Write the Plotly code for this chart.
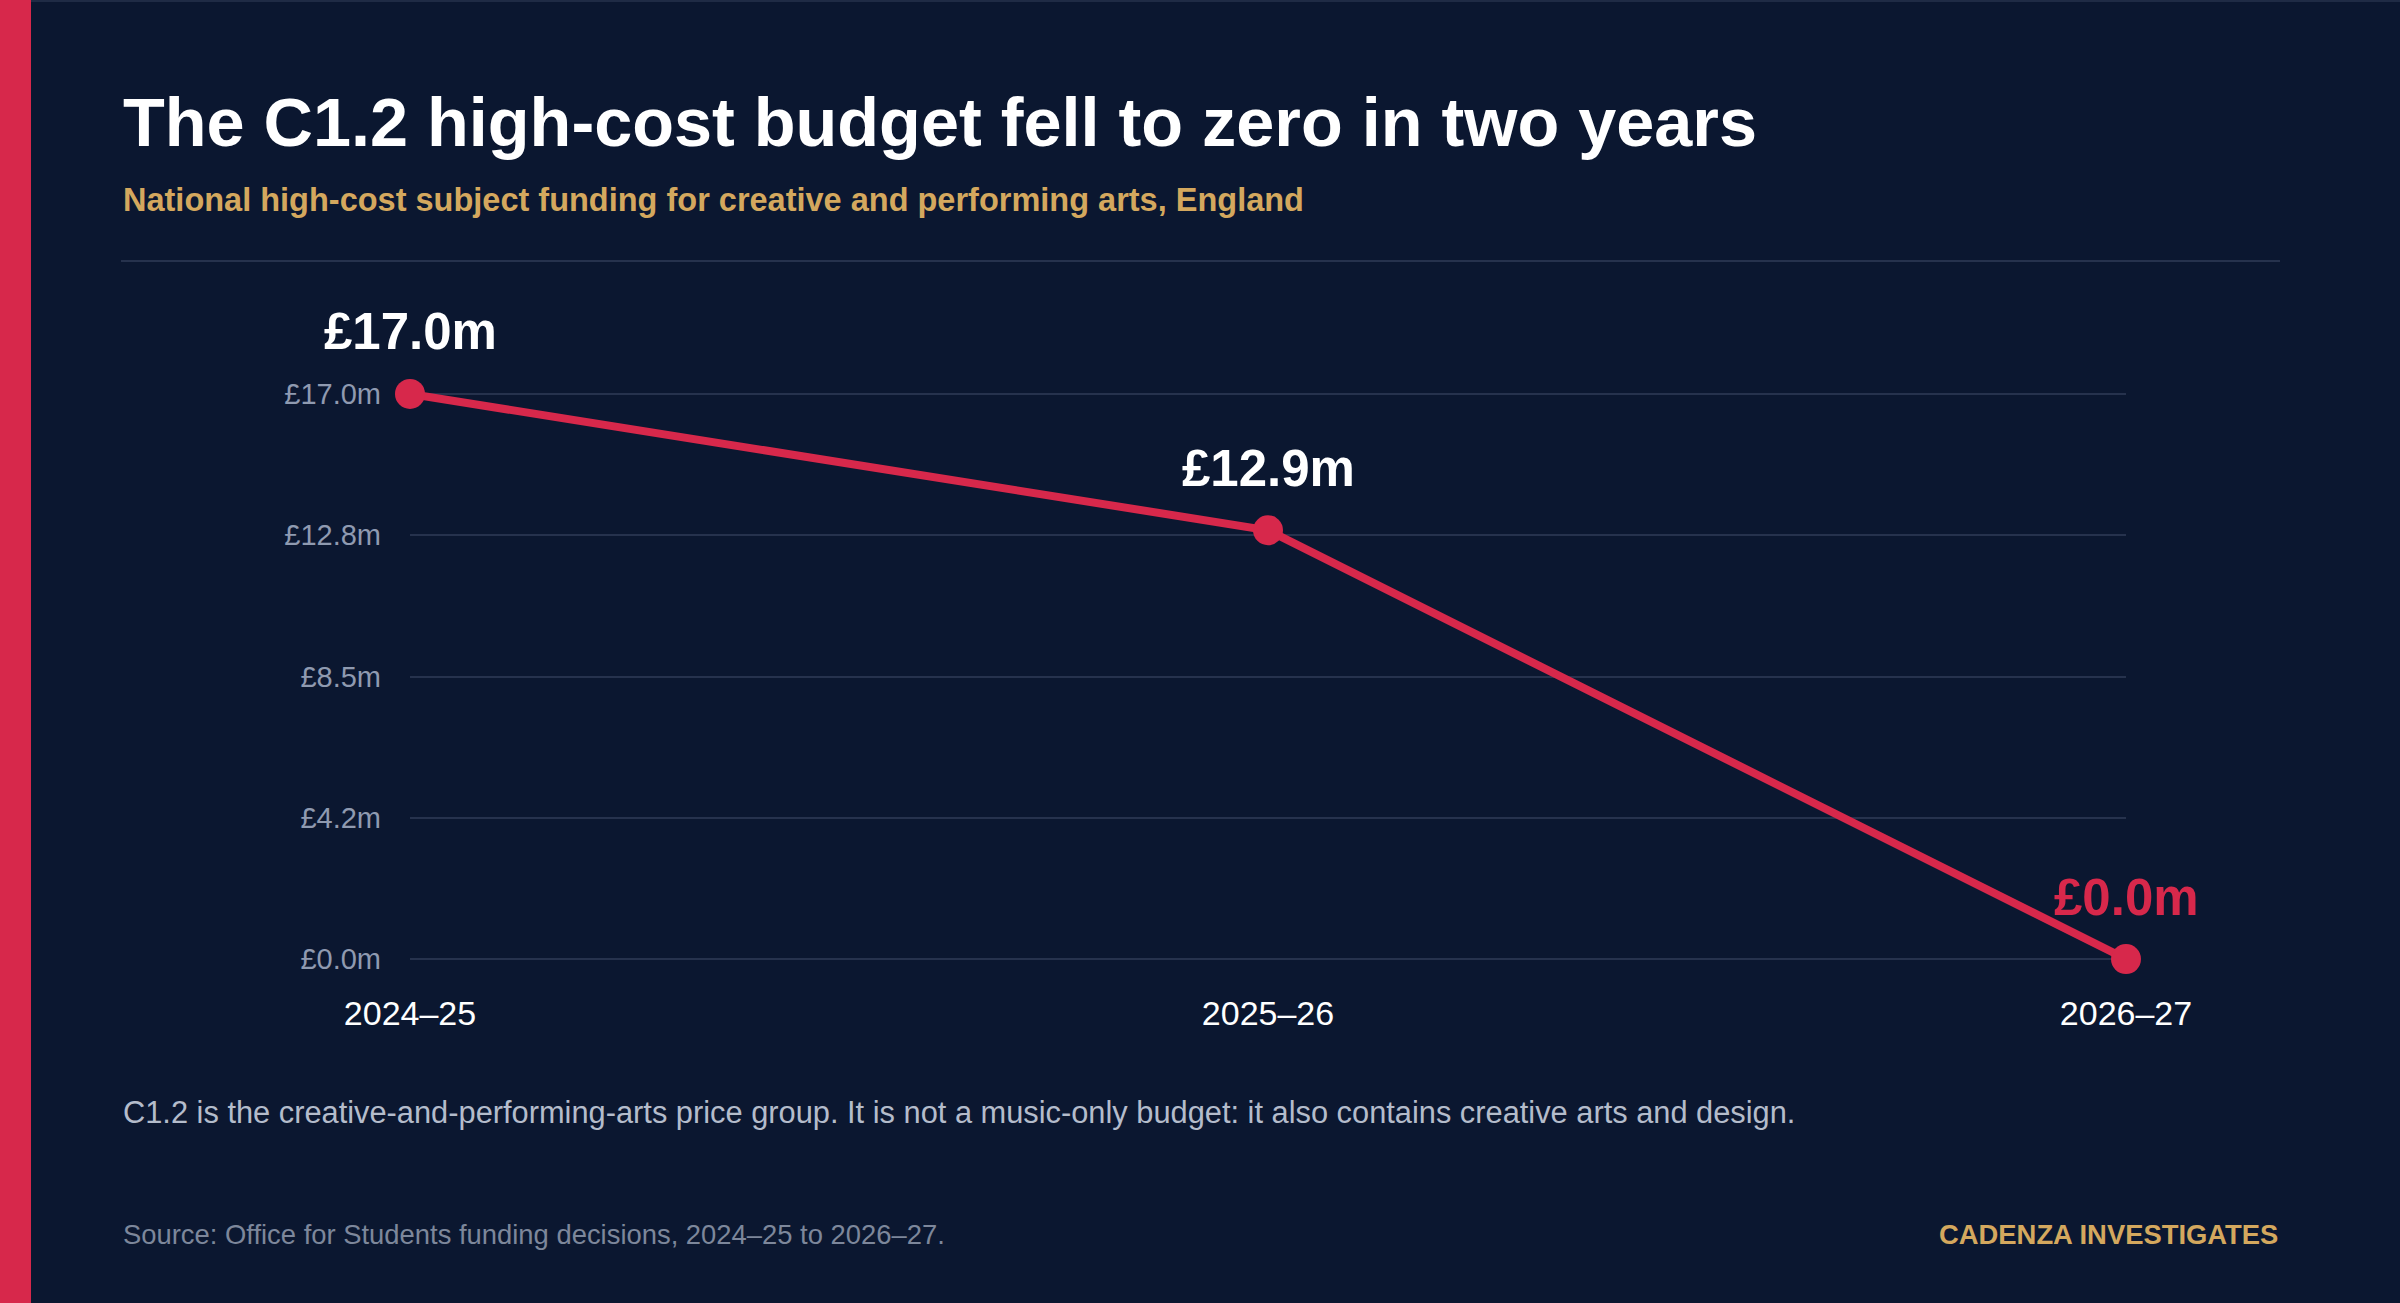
import plotly.graph_objects as go

# data
years = ["2024–25", "2025–26", "2026–27"]
funding_m = [17.0, 12.9, 0.0]
point_labels = ["£17.0m", "£12.9m", "£0.0m"]
tick_values = [0, 4.25, 8.5, 12.75, 17.0]
tick_labels = ["£0.0m", "£4.2m", "£8.5m", "£12.8m", "£17.0m"]

BG = "#0b1730"
RED = "#d7284b"
GOLD = "#d4a85e"
GRID = "#26324d"
FONT = "Liberation Sans, Arial, sans-serif"

W, H = 2400, 1303
# plot area in pixels; y range padded so the edge gridlines still get drawn
PAD = 0.3
L, R = 410, 2126
T, B = 394 - PAD * 565 / 17, 959 + PAD * 565 / 17
Y_RANGE = [-PAD, 17 + PAD]


def px(x):
    return (x - L) / (R - L)


def py(y):
    return (B - y) / (B - T)


fig = go.Figure()

fig.add_trace(go.Scatter(
    x=years, y=funding_m,
    mode="lines+markers",
    line=dict(color=RED, width=8),
    marker=dict(color=RED, size=30),
    cliponaxis=False,
    hoverinfo="skip",
    showlegend=False,
))

# value labels above each point
for yr, v, lab in zip(years, funding_m, point_labels):
    fig.add_annotation(
        x=yr, y=v, text=f"<b>{lab}</b>", showarrow=False,
        yshift=62, xanchor="center", yanchor="middle",
        font=dict(family=FONT, size=51, color=RED if v == 0 else "white"),
    )

texts = [
    # (text, x px, y px, size, color, bold, xanchor)
    ("The C1.2 high-cost budget fell to zero in two years", 121, 122, 68.4, "white", True, "left"),
    ("National high-cost subject funding for creative and performing arts, England", 121, 200, 32.5, GOLD, True, "left"),
    ("C1.2 is the creative-and-performing-arts price group. It is not a music-only budget: it also contains creative arts and design.",
     121, 1112, 30.8, "#b4bccb", False, "left"),
    ("Source: Office for Students funding decisions, 2024–25 to 2026–27.", 121, 1234, 27.4, "#7d879b", False, "left"),
    ("CADENZA INVESTIGATES", 2280, 1234, 27.4, GOLD, True, "right"),
]
for t, x, y, s, c, b, xa in texts:
    fig.add_annotation(
        xref="paper", yref="paper", x=px(x), y=py(y),
        text=f"<b>{t}</b>" if b else t, showarrow=False,
        xanchor=xa, yanchor="middle",
        font=dict(family=FONT, size=s, color=c),
    )

# left accent bar, divider, thin frame
fig.add_shape(type="rect", xref="paper", yref="paper",
              x0=px(0), x1=px(31), y0=py(0), y1=py(H),
              fillcolor=RED, line_width=0, layer="below")
fig.add_shape(type="line", xref="paper", yref="paper",
              x0=px(121), x1=px(2280), y0=py(261), y1=py(261),
              line=dict(color=GRID, width=2))
fig.add_shape(type="line", xref="paper", yref="paper",
              x0=px(31), x1=px(W), y0=py(1), y1=py(1),
              line=dict(color="#1f2b45", width=2))

fig.update_layout(
    width=W, height=H,
    margin=dict(l=L, r=W - R, t=T, b=H - B),
    paper_bgcolor=BG, plot_bgcolor=BG,
    font=dict(family=FONT),
    xaxis=dict(
        range=[0, 2], showgrid=False, zeroline=False, showline=False,
        tickfont=dict(size=34, color="white"), ticklabelstandoff=21,
    ),
    yaxis=dict(
        range=Y_RANGE, tickvals=tick_values, ticktext=tick_labels,
        showgrid=True, gridcolor=GRID, gridwidth=2,
        zeroline=False, showline=False,
        tickfont=dict(size=29, color="#8f9ab0"), ticklabelstandoff=28,
    ),
)

fig.write_html("out.html", config={"displayModeBar": False},
               post_script="document.body.style.margin='0';")
